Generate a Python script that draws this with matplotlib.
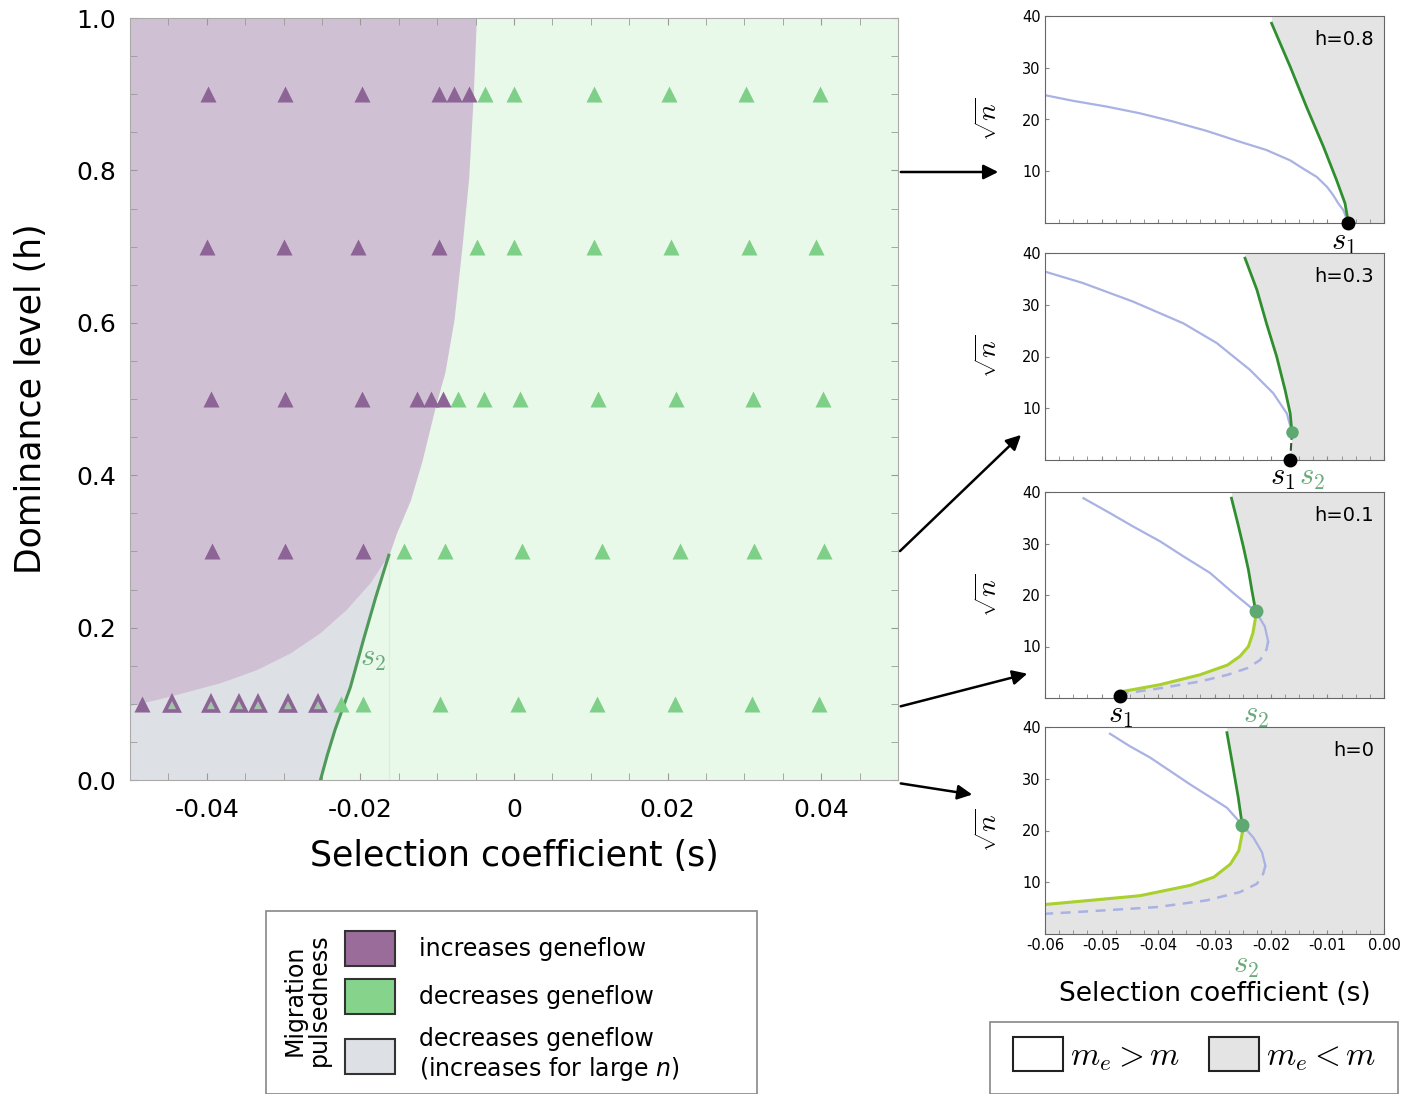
import numpy as np
import matplotlib.pyplot as plt
from matplotlib.patches import Patch, Rectangle, FancyArrowPatch

# ---- main panel: region boundaries and simulation triangles ----
purple_edge_s = [-0.05, -0.0465, -0.043, -0.0382, -0.0335, -0.0291, -0.0252, -0.0218,
                 -0.0187, -0.0163, -0.0153, -0.0135, -0.012, -0.0103, -0.009,
                 -0.0078, -0.0068, -0.0059, -0.0053, -0.0049]
purple_edge_h = [0.097, 0.105, 0.114, 0.127, 0.144, 0.166, 0.1925, 0.223,
                 0.258, 0.295, 0.324, 0.367, 0.418, 0.488, 0.535,
                 0.605, 0.6975, 0.79, 0.9, 1.0]
n_grey_edge = 10  # boundary points below the meeting point with s2

s2_line_s = [-0.0252, -0.0243, -0.0233, -0.0213, -0.0196, -0.018, -0.0163]
s2_line_h = [0.0, 0.033, 0.066, 0.122, 0.184, 0.24, 0.295]

tri_purple_s = [-0.0399, -0.0298, -0.0198, -0.00975, -0.0078, -0.00585,
                -0.04, -0.03, -0.0203, -0.00975,
                -0.0395, -0.0298, -0.0198, -0.0126, -0.0108, -0.0092,
                -0.0393, -0.0298, -0.0197,
                -0.0485]
tri_purple_h = [0.9] * 6 + [0.7] * 4 + [0.5] * 6 + [0.3] * 3 + [0.1]

tri_mixed_s = [-0.0445, -0.0395, -0.0358, -0.0333, -0.0294, -0.0255]
tri_mixed_h = [0.1] * 6

tri_green_s = [-0.0038, 0.0, 0.0104, 0.0202, 0.0302, 0.0398,
               -0.0048, 0.0, 0.0104, 0.0205, 0.0306, 0.0393,
               -0.0073, -0.0039, 0.0008, 0.0109, 0.0211, 0.0311, 0.0402,
               -0.0143, -0.009, 0.001, 0.0114, 0.0216, 0.0312, 0.0403,
               -0.0225, -0.0196, -0.0096, 0.0005, 0.0108, 0.0209, 0.031, 0.0397]
tri_green_h = [0.9] * 6 + [0.7] * 6 + [0.5] * 7 + [0.3] * 7 + [0.1] * 8

xticks_main = [-0.04, -0.02, 0.0, 0.02, 0.04]
xticklabels_main = ['-0.04', '-0.02', '0', '0.02', '0.04']
yticks_main = [0.0, 0.2, 0.4, 0.6, 0.8, 1.0]
yticklabels_main = ['0.0', '0.2', '0.4', '0.6', '0.8', '1.0']

# ---- side panels (s, sqrt n) ----
# h = 0.8
g08_s = [-0.0199, -0.0166, -0.0137, -0.0107, -0.0084, -0.0069, -0.0063]
g08_n = [38.6, 30.2, 22.4, 14.7, 8.3, 3.8, 0.0]
b08_s = [-0.06, -0.055, -0.0491, -0.0432, -0.0373, -0.0314, -0.0255, -0.0208, -0.0166,
         -0.0143, -0.0119, -0.0101, -0.009, -0.0081, -0.0072, -0.0063]
b08_n = [24.7, 23.6, 22.5, 21.2, 19.6, 17.8, 15.7, 14.1, 12.1,
         10.5, 8.9, 7.0, 5.4, 3.8, 2.5, 0.0]
s1_08 = (-0.0063, 0.0)

# h = 0.3
g03_s = [-0.0246, -0.0225, -0.0208, -0.019, -0.0175, -0.0166, -0.0163]
g03_n = [39.0, 32.9, 26.4, 20.0, 13.5, 9.0, 5.4]
b03_s = [-0.06, -0.0533, -0.0444, -0.0355, -0.0296, -0.0237, -0.0196, -0.0172, -0.0163]
b03_n = [36.4, 34.2, 30.6, 26.4, 22.6, 17.4, 12.9, 9.0, 5.4]
s1_03 = (-0.0166, 0.0)
s2_03 = (-0.0163, 5.4)

# h = 0.1
g01_s = [-0.027, -0.0259, -0.0249, -0.024, -0.0234, -0.0227]
g01_n = [38.8, 34.0, 29.4, 24.9, 21.0, 16.8]
l01_s = [-0.0227, -0.0228, -0.0232, -0.024, -0.0255, -0.0277, -0.0326, -0.0396, -0.0461, -0.0467]
l01_n = [16.8, 15.2, 12.6, 10.0, 8.1, 6.4, 4.5, 2.6, 1.3, 0.5]
b01_s = [-0.0532, -0.0485, -0.0444, -0.0396, -0.0355, -0.0308, -0.0267, -0.0227, -0.0211, -0.0205]
b01_n = [38.8, 35.9, 33.3, 30.4, 27.5, 24.3, 20.4, 16.8, 13.9, 11.0]
bd01_s = [-0.0205, -0.0208, -0.0219, -0.0242, -0.0277, -0.0326, -0.0396, -0.0455, -0.0467]
bd01_n = [11.0, 9.4, 7.4, 5.8, 4.5, 3.2, 1.9, 0.95, 0.5]
s1_01 = (-0.0467, 0.4)
s2_01 = (-0.0227, 16.8)

# h = 0
g00_s = [-0.0278, -0.0267, -0.0258, -0.0251]
g00_n = [38.9, 32.1, 26.4, 21.1]
l00_s = [-0.0251, -0.0251, -0.0257, -0.0272, -0.0301, -0.0343, -0.0432, -0.052, -0.06]
l00_n = [21.1, 19.4, 16.1, 13.5, 11.0, 9.4, 7.4, 6.5, 5.7]
b00_s = [-0.0485, -0.045, -0.0414, -0.0343, -0.0278, -0.0251, -0.0231, -0.0216, -0.021]
b00_n = [38.7, 36.3, 34.1, 28.9, 24.4, 21.1, 18.6, 15.8, 13.2]
bd00_s = [-0.021, -0.0214, -0.0225, -0.0255, -0.0314, -0.0402, -0.052, -0.06]
bd00_n = [13.2, 11.6, 9.7, 8.1, 6.5, 5.2, 4.4, 3.9]
s2_00 = (-0.0251, 21.1)

panel_xticks = [-0.06, -0.05, -0.04, -0.03, -0.02, -0.01, 0.0]
panel_xticklabels = ['-0.06', '-0.05', '-0.04', '-0.03', '-0.02', '-0.01', '0.00']

# colours
PURPLE_BG = '#d0c0d4'
GREEN_BG = '#e9f9e9'
GREY_BG = '#dde0e4'
PURPLE_MK = '#8c6496'
GREEN_MK = '#7ecf88'
MIX_FILL = '#a6c2aa'
PANEL_GREY = '#e4e4e4'
DKGREEN = '#2f8f2f'
LIME = '#a9d02c'
LAV = '#a9b2e2'
DOTGREEN = '#5ea872'
S2COL = '#6aaa7a'

W, H = 1404, 1094
fig = plt.figure(figsize=(W / 100, H / 100), dpi=100)


def px_axes(left, top, right, bottom):
    return fig.add_axes([left / W, 1 - bottom / H, (right - left) / W, (bottom - top) / H])


# ================= main axes =================
ax = px_axes(130, 18, 898, 780)
ax.set_xlim(-0.05, 0.05)
ax.set_ylim(0, 1)
ax.set_facecolor(GREEN_BG)
ax.fill_betweenx(purple_edge_h, -0.05, purple_edge_s, color=PURPLE_BG, lw=0, zorder=1)
grey_s = [-0.05] + s2_line_s + purple_edge_s[:n_grey_edge][::-1]
grey_h = [0.0] + s2_line_h + purple_edge_h[:n_grey_edge][::-1]
ax.fill(grey_s, grey_h, color=GREY_BG, lw=0, zorder=1)
ax.plot([s2_line_s[-1], s2_line_s[-1]], [0, s2_line_h[-1]], color='#dcefdc', lw=1, zorder=1.5)
ax.plot(s2_line_s, s2_line_h, color='#4f9a5a', lw=2.2, zorder=2)
ax.text(-0.0184, 0.16, '$s_2$', color=S2COL, fontsize=22, math_fontfamily='cm',
        ha='center', va='center', zorder=3)

ax.plot(tri_purple_s, tri_purple_h, '^', color=PURPLE_MK, ms=12, mec='none', zorder=4)
ax.plot(tri_green_s, tri_green_h, '^', color=GREEN_MK, ms=12, mec='none', zorder=4)
ax.plot(tri_mixed_s, tri_mixed_h, '^', mfc=MIX_FILL, mec=PURPLE_MK, mew=2.6, ms=10.5, zorder=4)

ax.set_xticks(xticks_main)
ax.set_xticklabels(xticklabels_main)
ax.set_yticks(yticks_main)
ax.set_yticklabels(yticklabels_main)
ax.set_xticks(np.arange(-0.05, 0.0501, 0.005), minor=True)
ax.set_yticks(np.arange(0, 1.001, 0.05), minor=True)
ax.tick_params(which='both', direction='in', length=5, color='#999999',
               top=True, right=True, labelsize=18)
ax.tick_params(axis='x', pad=13)
ax.tick_params(axis='y', pad=10)
for sp in ax.spines.values():
    sp.set_color('#aaaaaa')
ax.set_xlabel('Selection coefficient (s)', fontsize=25, labelpad=12)
ax.set_ylabel('Dominance level (h)', fontsize=25, labelpad=20)

# ================= side panels =================
panel_boxes = [(16, 223), (253, 460), (492, 698), (727, 934)]
panel_axes = [px_axes(1045, t, 1384, b) for t, b in panel_boxes]
for pax, lab in zip(panel_axes, ['h=0.8', 'h=0.3', 'h=0.1', 'h=0']):
    pax.set_xlim(-0.06, 0.0)
    pax.set_ylim(0, 40)
    pax.set_yticks([10, 20, 30, 40])
    pax.set_xticks(panel_xticks)
    pax.set_xticks(np.arange(-0.06, 0.0001, 0.0025), minor=True)
    pax.tick_params(which='both', direction='in', length=3, color='#888888',
                    labelsize=10.5, pad=3)
    pax.set_xticklabels([])
    for sp in pax.spines.values():
        sp.set_color('#666666')
    pax.set_ylabel(r'$\sqrt{n}$', fontsize=20, math_fontfamily='cm', labelpad=14)
    pax.text(0.97, 0.93, lab, transform=pax.transAxes, ha='right', va='top', fontsize=14)

p1, p2, p3, p4 = panel_axes

# h = 0.8
p1.fill_betweenx([40] + g08_n, [g08_s[0]] + g08_s, 0, color=PANEL_GREY, lw=0)
p1.plot(b08_s, b08_n, color=LAV, lw=1.6)
p1.plot(g08_s, g08_n, color=DKGREEN, lw=2)
p1.plot(*s1_08, 'o', color='black', ms=9, clip_on=False, zorder=5)
p1.text(s1_08[0] - 0.0008, -1.0, '$s_1$', fontsize=22, math_fontfamily='cm', ha='center', va='top')

# h = 0.3
p2.fill_betweenx([40] + g03_n + [0], [g03_s[0]] + g03_s + [s1_03[0]], 0, color=PANEL_GREY, lw=0)
p2.plot(b03_s, b03_n, color=LAV, lw=1.6)
p2.plot(g03_s, g03_n, color=DKGREEN, lw=2)
p2.plot([s2_03[0], s1_03[0]], [s2_03[1], s1_03[1]], '--', color='#335533', lw=1.5)
p2.plot(*s2_03, 'o', color=DOTGREEN, ms=8, zorder=5)
p2.plot(*s1_03, 'o', color='black', ms=9, clip_on=False, zorder=5)
p2.text(s1_03[0] - 0.0014, -0.5, '$s_1$', fontsize=22, math_fontfamily='cm', ha='center', va='top')
p2.text(s1_03[0] + 0.0038, -0.5, '$s_2$', fontsize=22, math_fontfamily='cm', ha='center',
        va='top', color=S2COL)

# h = 0.1
p3.fill_betweenx([40] + g01_n + l01_n[1:] + [0],
                 [g01_s[0]] + g01_s + l01_s[1:] + [l01_s[-1]], 0, color=PANEL_GREY, lw=0)
p3.plot(b01_s, b01_n, color=LAV, lw=1.6)
p3.plot(bd01_s, bd01_n, '--', color=LAV, lw=1.8, dashes=(4, 3))
p3.plot(l01_s, l01_n, color=LIME, lw=2.2)
p3.plot(g01_s, g01_n, color=DKGREEN, lw=2)
p3.plot(*s2_01, 'o', color=DOTGREEN, ms=9, zorder=5)
p3.plot(*s1_01, 'o', color='black', ms=9, clip_on=False, zorder=5)
p3.text(s1_01[0], -0.5, '$s_1$', fontsize=22, math_fontfamily='cm', ha='center', va='top')
p3.text(s2_01[0], -0.5, '$s_2$', fontsize=22, math_fontfamily='cm', ha='center', va='top',
        color=S2COL)

# h = 0
p4.fill_betweenx([40] + g00_n + l00_n[1:] + [0],
                 [g00_s[0]] + g00_s + l00_s[1:] + [-0.06], 0, color=PANEL_GREY, lw=0)
p4.plot(b00_s, b00_n, color=LAV, lw=1.6)
p4.plot(bd00_s, bd00_n, '--', color=LAV, lw=1.8, dashes=(4, 3))
p4.plot(l00_s, l00_n, color=LIME, lw=2.2)
p4.plot(g00_s, g00_n, color=DKGREEN, lw=2)
p4.plot(*s2_00, 'o', color=DOTGREEN, ms=9, zorder=5)
p4.set_xticklabels(panel_xticklabels)
p4.text(s2_00[0] + 0.0007, -3.2, '$s_2$', fontsize=22, math_fontfamily='cm', ha='center',
        va='top', color=S2COL)
p4.set_xlabel('Selection coefficient (s)', fontsize=19, labelpad=20)

# ================= arrows =================
arrows = [((898, 172), (1001, 172)), ((898, 553), (1023, 433)),
          ((898, 707), (1030, 673)), ((898, 783), (975, 795))]
for (x0, y0), (x1, y1) in arrows:
    fig.add_artist(FancyArrowPatch((x0 / W, 1 - y0 / H), (x1 / W, 1 - y1 / H),
                                   transform=fig.transFigure, arrowstyle='-|>',
                                   mutation_scale=22, lw=1.8, color='black'))

# ================= legends =================
fig.add_artist(Rectangle((266 / W, 0), (757 - 266) / W, (1094 - 911) / H,
                         transform=fig.transFigure, fill=False, ec='#888888', lw=1.2))
fig.text(307 / W, 1 - 1000 / H, 'Migration\npulsedness', rotation=90, fontsize=17,
         ha='center', va='center', multialignment='center', linespacing=1.0)
handles = [Patch(fc='#9a6c9a', ec='#333333', lw=1.5),
           Patch(fc='#86d48c', ec='#333333', lw=1.5),
           Patch(fc=GREY_BG, ec='#333333', lw=1.5)]
labels = ['increases geneflow', 'decreases geneflow',
          'decreases geneflow\n(increases for large $n$)']
leg1 = fig.legend(handles, labels, loc='upper left', bbox_to_anchor=(345 / W, 1 - 931 / H),
                  frameon=False, fontsize=17, handlelength=2.1, handleheight=1.9,
                  handletextpad=1.05, labelspacing=0.55, borderpad=0, borderaxespad=0)
for t in leg1.get_texts():
    t.set_math_fontfamily('dejavusans')

fig.add_artist(Rectangle((990 / W, 0), (1398 - 990) / W, (1094 - 1022) / H,
                         transform=fig.transFigure, fill=False, ec='#888888', lw=1.2))
handles2 = [Patch(fc='white', ec='#222222', lw=1.5), Patch(fc=PANEL_GREY, ec='#222222', lw=1.5)]
leg2 = fig.legend(handles2, ['$m_e > m$', '$m_e < m$'], loc='upper left',
                  bbox_to_anchor=(1013 / W, 1 - 1037 / H), ncol=2, frameon=False,
                  fontsize=24, handlelength=1.5, handleheight=1.19, handletextpad=0.21,
                  columnspacing=0.85, borderpad=0, borderaxespad=0)
for t in leg2.get_texts():
    t.set_math_fontfamily('cm')

fig.savefig('out.png', dpi=100)
